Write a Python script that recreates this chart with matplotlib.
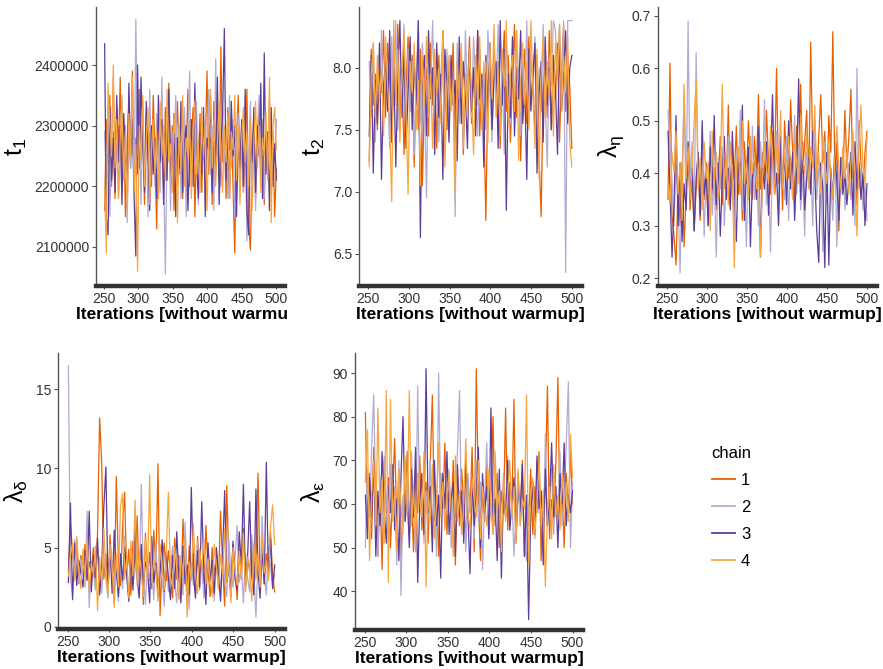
import numpy as np
import matplotlib.pyplot as plt
from matplotlib.lines import Line2D
from matplotlib.transforms import Bbox, TransformedBbox

plt.rcParams['font.family'] = ['Liberation Sans', 'DejaVu Sans']
plt.rcParams['mathtext.fontset'] = 'custom'
plt.rcParams['mathtext.rm'] = 'Liberation Sans'
plt.rcParams['mathtext.it'] = 'Liberation Sans:italic'

chains = ['1', '2', '3', '4']
chain_colors = ['#E66101', '#B2ABD2', '#5E3C99', '#F7A540']
iterations = np.linspace(251, 500, 100)
x_ticks = [250, 300, 350, 400, 450, 500]

# t1
t1_c1 = [2160000, 2310000, 2240000, 2350000, 2200000, 2290000, 2180000, 2330000, 2260000, 2380000,
         2210000, 2300000, 2150000, 2270000, 2340000, 2230000, 2390000, 2190000, 2280000, 2220000,
         2360000, 2250000, 2300000, 2170000, 2320000, 2240000, 2290000, 2200000, 2350000, 2260000,
         2130000, 2310000, 2230000, 2280000, 2190000, 2330000, 2250000, 2370000, 2210000, 2300000,
         2160000, 2270000, 2340000, 2220000, 2290000, 2180000, 2310000, 2250000, 2360000, 2200000,
         2280000, 2330000, 2150000, 2270000, 2240000, 2320000, 2190000, 2300000, 2260000, 2390000,
         2220000, 2280000, 2170000, 2340000, 2250000, 2300000, 2210000, 2430000, 2240000, 2290000,
         2180000, 2330000, 2260000, 2310000, 2200000, 2090000, 2280000, 2350000, 2230000, 2300000,
         2190000, 2270000, 2360000, 2140000, 2095000, 2250000, 2310000, 2180000, 2280000, 2330000,
         2220000, 2260000, 2170000, 2300000, 2240000, 2340000, 2200000, 2290000, 2150000, 2230000]
t1_c2 = [2290000, 2200000, 2330000, 2150000, 2270000, 2380000, 2240000, 2310000, 2180000, 2260000,
         2350000, 2210000, 2300000, 2140000, 2280000, 2230000, 2320000, 2190000, 2475000, 2250000,
         2300000, 2170000, 2340000, 2220000, 2290000, 2150000, 2360000, 2240000, 2280000, 2200000,
         2320000, 2260000, 2190000, 2380000, 2230000, 2055000, 2270000, 2310000, 2160000, 2290000,
         2240000, 2350000, 2200000, 2300000, 2180000, 2270000, 2330000, 2150000, 2260000, 2390000,
         2210000, 2290000, 2240000, 2340000, 2170000, 2280000, 2230000, 2310000, 2190000, 2270000,
         2360000, 2220000, 2300000, 2160000, 2410000, 2250000, 2290000, 2200000, 2330000, 2240000,
         2280000, 2180000, 2350000, 2230000, 2310000, 2150000, 2270000, 2320000, 2210000, 2260000,
         2190000, 2300000, 2110000, 2240000, 2340000, 2200000, 2290000, 2160000, 2280000, 2350000,
         2230000, 2310000, 2180000, 2270000, 2250000, 2330000, 2200000, 2290000, 2240000, 2310000]
t1_c3 = [2435000, 2150000, 2120000, 2330000, 2210000, 2280000, 2190000, 2350000, 2240000, 2300000,
         2170000, 2320000, 2260000, 2200000, 2370000, 2250000, 2310000, 2180000, 2085000, 2400000,
         2230000, 2380000, 2270000, 2190000, 2340000, 2250000, 2160000, 2300000, 2220000, 2280000,
         2180000, 2350000, 2240000, 2310000, 2170000, 2290000, 2210000, 2360000, 2250000, 2200000,
         2320000, 2150000, 2280000, 2230000, 2340000, 2190000, 2270000, 2300000, 2160000, 2250000,
         2310000, 2200000, 2370000, 2240000, 2180000, 2290000, 2220000, 2330000, 2150000, 2280000,
         2260000, 2350000, 2190000, 2300000, 2230000, 2380000, 2170000, 2270000, 2320000, 2460000,
         2210000, 2290000, 2180000, 2340000, 2250000, 2300000, 2150000, 2270000, 2230000, 2310000,
         2200000, 2360000, 2160000, 2120000, 2280000, 2240000, 2330000, 2190000, 2300000, 2250000,
         2370000, 2180000, 2420000, 2220000, 2290000, 2160000, 2330000, 2200000, 2270000, 2210000]
t1_c4 = [2200000, 2090000, 2370000, 2300000, 2250000, 2400000, 2230000, 2310000, 2180000, 2280000,
         2340000, 2210000, 2290000, 2160000, 2320000, 2250000, 2380000, 2190000, 2270000, 2060000,
         2300000, 2240000, 2350000, 2200000, 2280000, 2330000, 2170000, 2260000, 2310000, 2220000,
         2290000, 2180000, 2340000, 2250000, 2300000, 2210000, 2360000, 2240000, 2270000, 2190000,
         2320000, 2260000, 2140000, 2300000, 2230000, 2350000, 2200000, 2280000, 2250000, 2310000,
         2180000, 2290000, 2340000, 2220000, 2270000, 2190000, 2330000, 2250000, 2300000, 2160000,
         2280000, 2360000, 2230000, 2310000, 2200000, 2270000, 2340000, 2250000, 2190000, 2300000,
         2240000, 2320000, 2180000, 2290000, 2260000, 2350000, 2210000, 2300000, 2170000, 2280000,
         2330000, 2240000, 2290000, 2200000, 2310000, 2160000, 2270000, 2340000, 2230000, 2300000,
         2190000, 2280000, 2250000, 2320000, 2210000, 2380000, 2140000, 2300000, 2330000, 2260000]

# t2
t2_c1 = [7.25, 8.15, 7.70, 7.95, 7.50, 8.05, 7.80, 8.30, 7.60, 8.20,
         7.90, 7.40, 8.10, 7.75, 8.35, 7.55, 8.00, 7.30, 7.85, 8.25,
         7.65, 8.10, 7.20, 7.95, 7.50, 8.15, 7.05, 7.80, 8.00, 7.45,
         8.20, 7.70, 7.95, 7.35, 8.10, 7.60, 8.30, 7.85, 7.50, 8.05,
         7.75, 8.20, 7.40, 7.90, 7.65, 8.15, 7.30, 7.95, 7.80, 8.25,
         7.55, 8.00, 7.70, 8.30, 7.45, 7.90, 7.60, 6.77, 7.85, 8.10,
         7.50, 8.20, 7.75, 8.05, 7.35, 7.95, 8.30, 7.65, 8.10, 7.40,
         7.90, 8.35, 7.60, 8.00, 7.25, 7.85, 8.15, 7.55, 8.25, 7.70,
         7.95, 7.45, 8.10, 7.30, 6.80, 7.80, 8.05, 7.60, 8.30, 7.50,
         8.00, 7.75, 8.20, 7.40, 7.95, 8.35, 7.65, 8.10, 7.85, 7.35]
t2_c2 = [8.05, 7.60, 8.20, 7.40, 7.95, 7.75, 8.30, 7.55, 8.10, 7.85,
         7.35, 8.25, 7.70, 8.38, 7.50, 8.00, 7.80, 8.35, 7.45, 8.15,
         7.65, 8.05, 7.30, 7.90, 8.38, 7.55, 8.20, 7.75, 6.95, 8.10,
         7.85, 8.38, 7.60, 8.00, 7.40, 7.95, 8.25, 7.70, 8.15, 7.50,
         8.05, 7.80, 6.80, 8.20, 7.55, 8.00, 7.35, 8.30, 7.75, 8.10,
         7.60, 8.25, 7.85, 7.45, 8.15, 7.70, 8.05, 7.50, 8.30, 7.90,
         7.40, 8.10, 7.75, 8.35, 7.60, 8.00, 7.30, 8.20, 7.85, 7.55,
         8.15, 7.65, 8.30, 7.90, 7.45, 8.05, 7.70, 8.38, 7.55, 8.10,
         7.80, 8.25, 7.40, 8.00, 7.65, 8.35, 7.75, 7.20, 8.10, 7.85,
         8.38, 8.30, 7.95, 8.35, 7.70, 8.38, 6.35, 8.38, 8.38, 8.38]
t2_c3 = [7.45, 8.10, 7.15, 7.90, 7.55, 8.20, 7.10, 7.85, 8.05, 7.65,
         8.30, 7.40, 8.00, 7.20, 7.95, 8.38, 7.60, 8.15, 7.35, 7.80,
         8.25, 7.50, 8.05, 7.70, 8.38, 6.63, 7.90, 8.10, 7.45, 8.30,
         7.75, 8.00, 7.30, 8.20, 7.60, 7.95, 7.10, 8.15, 7.85, 7.40,
         8.10, 7.70, 7.90, 7.25, 8.25, 7.55, 8.05, 7.80, 7.35, 8.15,
         7.65, 8.00, 7.45, 8.30, 7.75, 7.95, 7.20, 8.10, 7.60, 8.20,
         7.50, 7.90, 8.05, 7.35, 8.38, 7.70, 8.15, 6.85, 7.95, 7.60,
         8.25, 7.45, 8.00, 7.75, 8.30, 7.55, 7.85, 7.10, 8.15, 7.65,
         7.95, 8.20, 7.15, 7.80, 8.05, 7.40, 8.25, 7.70, 8.00, 7.50,
         8.10, 7.85, 7.30, 8.20, 7.65, 7.95, 8.30, 7.55, 8.00, 8.10]
t2_c4 = [7.20, 7.95, 8.20, 7.60, 8.10, 7.75, 8.00, 7.45, 8.25, 7.85,
         7.55, 6.92, 8.38, 7.70, 8.15, 7.40, 7.95, 8.30, 7.65, 6.98,
         8.05, 7.80, 8.20, 7.50, 7.90, 7.05, 8.10, 7.70, 8.25, 7.60,
         7.95, 7.35, 8.15, 7.80, 8.00, 7.55, 8.30, 7.20, 7.85, 8.10,
         7.65, 7.90, 6.98, 8.05, 7.75, 8.20, 7.45, 7.95, 7.60, 8.15,
         7.80, 7.30, 8.10, 7.70, 8.25, 7.50, 7.90, 8.05, 7.40, 8.20,
         7.75, 8.35, 7.60, 8.00, 7.45, 8.15, 7.85, 8.38, 7.55, 7.95,
         8.10, 7.65, 8.30, 7.25, 7.90, 8.20, 7.70, 8.05, 7.50, 8.38,
         7.80, 7.35, 8.15, 7.10, 7.95, 8.25, 7.60, 8.05, 7.75, 8.38,
         7.45, 8.20, 7.90, 8.35, 7.65, 8.10, 7.80, 8.25, 7.40, 7.20]

# lambda eta
leta_c1 = [0.35, 0.61, 0.32, 0.28, 0.225, 0.38, 0.30, 0.42, 0.26, 0.36,
           0.45, 0.33, 0.40, 0.29, 0.37, 0.44, 0.31, 0.39, 0.35, 0.42,
           0.30, 0.46, 0.36, 0.41, 0.33, 0.38, 0.47, 0.34, 0.43, 0.37,
           0.53, 0.35, 0.44, 0.39, 0.49, 0.36, 0.42, 0.31, 0.46, 0.38,
           0.50, 0.41, 0.35, 0.47, 0.40, 0.55, 0.37, 0.44, 0.39, 0.52,
           0.42, 0.36, 0.48, 0.41, 0.60, 0.38, 0.45, 0.33, 0.50, 0.43,
           0.39, 0.54, 0.44, 0.35, 0.49, 0.41, 0.57, 0.40, 0.46, 0.52,
           0.38, 0.65, 0.43, 0.50, 0.37, 0.47, 0.55, 0.42, 0.48, 0.36,
           0.51, 0.44, 0.67, 0.40, 0.46, 0.29, 0.43, 0.38, 0.52, 0.41,
           0.47, 0.56, 0.39, 0.45, 0.34, 0.50, 0.42, 0.37, 0.44, 0.48]
leta_c2 = [0.52, 0.45, 0.38, 0.30, 0.42, 0.35, 0.21, 0.40, 0.55, 0.33,
           0.69, 0.37, 0.46, 0.31, 0.63, 0.39, 0.34, 0.44, 0.28, 0.41,
           0.36, 0.48, 0.32, 0.40, 0.24, 0.43, 0.37, 0.45, 0.30, 0.39,
           0.47, 0.34, 0.41, 0.29, 0.44, 0.38, 0.52, 0.33, 0.40, 0.26,
           0.43, 0.36, 0.49, 0.35, 0.41, 0.30, 0.46, 0.38, 0.54, 0.34,
           0.40, 0.25, 0.44, 0.37, 0.48, 0.32, 0.42, 0.39, 0.35, 0.47,
           0.31, 0.43, 0.38, 0.51, 0.36, 0.45, 0.33, 0.40, 0.28, 0.44,
           0.37, 0.42, 0.30, 0.48, 0.35, 0.41, 0.39, 0.25, 0.46, 0.34,
           0.43, 0.38, 0.31, 0.45, 0.26, 0.40, 0.36, 0.44, 0.33, 0.39,
           0.42, 0.35, 0.47, 0.30, 0.60, 0.37, 0.41, 0.33, 0.38, 0.31]
leta_c3 = [0.48, 0.37, 0.24, 0.34, 0.51, 0.30, 0.42, 0.27, 0.38, 0.33,
           0.46, 0.35, 0.41, 0.29, 0.39, 0.44, 0.32, 0.50, 0.36, 0.40,
           0.30, 0.45, 0.37, 0.51, 0.34, 0.42, 0.28, 0.39, 0.47, 0.35,
           0.41, 0.33, 0.48, 0.38, 0.27, 0.43, 0.36, 0.53, 0.31, 0.40,
           0.45, 0.26, 0.39, 0.44, 0.35, 0.49, 0.24, 0.41, 0.37, 0.46,
           0.32, 0.42, 0.55, 0.36, 0.40, 0.30, 0.47, 0.38, 0.43, 0.34,
           0.50, 0.37, 0.44, 0.31, 0.41, 0.58, 0.35, 0.46, 0.33, 0.39,
           0.43, 0.36, 0.48, 0.40, 0.29, 0.23, 0.42, 0.37, 0.22, 0.44,
           0.225, 0.41, 0.35, 0.45, 0.38, 0.31, 0.43, 0.36, 0.40, 0.34,
           0.39, 0.44, 0.32, 0.46, 0.37, 0.42, 0.35, 0.40, 0.30, 0.38]
leta_c4 = [0.38, 0.34, 0.44, 0.40, 0.48, 0.36, 0.42, 0.31, 0.57, 0.39,
           0.45, 0.35, 0.41, 0.50, 0.58, 0.37, 0.43, 0.33, 0.46, 0.39,
           0.42, 0.29, 0.48, 0.38, 0.44, 0.35, 0.40, 0.57, 0.37, 0.43,
           0.34, 0.46, 0.39, 0.22, 0.41, 0.45, 0.36, 0.50, 0.38, 0.42,
           0.35, 0.47, 0.40, 0.44, 0.37, 0.42, 0.24, 0.39, 0.46, 0.41,
           0.38, 0.49, 0.43, 0.36, 0.45, 0.40, 0.52, 0.37, 0.44, 0.39,
           0.47, 0.41, 0.35, 0.46, 0.42, 0.38, 0.51, 0.43, 0.40, 0.48,
           0.37, 0.45, 0.41, 0.53, 0.39, 0.44, 0.36, 0.47, 0.42, 0.38,
           0.46, 0.40, 0.35, 0.43, 0.49, 0.41, 0.37, 0.45, 0.39, 0.44,
           0.36, 0.42, 0.48, 0.40, 0.28, 0.45, 0.53, 0.41, 0.38, 0.47]

# lambda delta
ldel_c1 = [3.5, 6.4, 4.8, 3.1, 5.5, 2.7, 4.5, 3.9, 5.2, 2.9,
           4.1, 3.3, 5.0, 2.5, 6.0, 13.2, 10.4, 3.0, 4.6, 2.2,
           5.8, 3.4, 1.5, 9.5, 4.0, 2.6, 6.3, 8.5, 3.2, 4.9,
           2.0, 5.4, 3.7, 7.0, 2.8, 4.4, 1.4, 5.9, 3.1, 4.7,
           2.4, 6.1, 3.6, 10.3, 0.7, 4.2, 5.3, 2.9, 4.8, 3.5,
           1.8, 5.6, 3.0, 4.5, 2.3, 6.8, 3.8, 1.6, 5.1, 3.3,
           4.6, 2.1, 5.7, 3.4, 4.0, 2.7, 6.4, 3.6, 1.9, 5.0,
           3.2, 4.5, 2.5, 7.3, 3.9, 1.3, 8.9, 4.1, 2.8, 5.2,
           3.6, 1.7, 4.9, 3.0, 6.2, 2.6, 4.3, 3.5, 5.5, 2.3,
           4.0, 9.7, 3.1, 5.3, 2.7, 4.6, 3.8, 6.0, 3.3, 2.2]
ldel_c2 = [16.5, 3.0, 2.0, 5.5, 3.6, 2.8, 4.3, 3.2, 2.5, 7.3,
           1.2, 4.1, 3.4, 2.3, 5.0, 3.7, 2.1, 4.6, 3.0, 1.8,
           5.2, 3.3, 2.6, 4.4, 1.6, 3.9, 2.4, 5.7, 3.1, 1.9,
           4.2, 2.7, 3.5, 5.0, 2.0, 9.0, 3.2, 1.4, 4.5, 2.9,
           3.8, 1.7, 5.3, 2.5, 4.0, 3.0, 1.3, 4.7, 2.2, 3.6,
           5.1, 2.8, 1.5, 4.3, 3.4, 2.0, 6.6, 3.1, 1.1, 4.0,
           2.6, 3.7, 5.4, 2.3, 4.1, 1.8, 3.3, 4.8, 2.7, 3.9,
           1.6, 5.0, 3.5, 2.4, 4.4, 3.0, 1.9, 5.6, 3.2, 2.5,
           4.3, 6.4, 2.8, 3.7, 1.5, 4.6, 3.1, 2.2, 5.8, 3.5,
           0.6, 4.2, 2.9, 7.0, 3.4, 2.0, 5.1, 3.8, 2.6, 3.3]
ldel_c3 = [2.8, 7.8, 1.7, 5.3, 2.6, 4.2, 3.4, 2.5, 4.8, 3.0,
           7.3, 2.2, 4.5, 3.1, 5.6, 2.0, 3.8, 7.5, 10.1, 2.7,
           4.9, 2.1, 6.1, 3.5, 1.9, 4.6, 2.9, 5.0, 3.3, 1.6,
           4.4, 2.3, 6.3, 3.0, 1.8, 5.2, 2.6, 4.1, 3.6, 1.5,
           5.7, 2.8, 4.0, 1.9, 3.4, 5.5, 2.2, 4.7, 3.1, 1.7,
           4.5, 2.4, 6.0, 3.2, 1.5, 5.1, 2.7, 3.9, 2.0, 8.8,
           3.3, 1.8, 4.8, 2.5, 7.9, 3.6, 1.4, 5.3, 2.9, 4.2,
           2.1, 5.0, 3.4, 1.6, 4.5, 8.6, 2.8, 3.7, 1.9, 5.4,
           3.0, 2.3, 6.0, 3.8, 9.0, 2.6, 4.4, 7.9, 3.2, 2.0,
           8.7, 3.5, 1.8, 4.9, 2.7, 10.4, 3.1, 5.6, 2.4, 3.9]
ldel_c4 = [3.2, 4.5, 5.3, 2.9, 5.7, 3.6, 2.4, 4.9, 3.1, 5.5,
           2.2, 4.0, 3.3, 5.1, 1.0, 4.4, 2.7, 6.2, 3.5, 2.0,
           5.0, 3.8, 1.2, 4.6, 2.5, 7.6, 8.4, 3.0, 4.3, 1.8,
           5.4, 3.2, 8.0, 2.6, 4.8, 3.5, 1.9, 5.6, 3.0, 9.6,
           2.8, 4.2, 3.6, 1.6, 5.2, 3.9, 2.3, 4.7, 8.5, 3.1,
           2.5, 5.0, 3.7, 1.7, 4.5, 3.2, 5.8, 0.6, 4.1, 2.9,
           6.5, 3.4, 2.1, 4.9, 3.6, 5.5, 2.7, 4.3, 3.0, 1.9,
           5.2, 3.8, 2.4, 4.6, 3.3, 6.2, 2.8, 4.0, 1.5, 5.0,
           3.5, 2.6, 4.8, 3.1, 5.9, 2.2, 4.4, 3.7, 1.6, 5.3,
           3.0, 4.6, 2.5, 5.7, 3.4, 4.1, 2.9, 6.3, 7.7, 5.2]

# lambda epsilon
leps_c1 = [81, 56, 67, 52, 73, 60, 48, 64, 45, 70,
           58, 66, 50, 62, 75, 55, 68, 47, 61, 57,
           72, 53, 63, 49, 66, 58, 71, 54, 60, 65,
           51, 69, 85, 56, 62, 48, 67, 59, 74, 53,
           63, 57, 70, 46, 64, 55, 68, 60, 52, 66,
           58, 73, 49, 91, 61, 47, 64, 56, 69, 53,
           62, 80, 55, 67, 50, 63, 58, 82, 54, 65,
           59, 84, 51, 66, 57, 70, 48, 62, 55, 68,
           53, 64, 58, 72, 47, 60, 66, 87, 52, 61,
           57, 69, 89, 55, 63, 50, 67, 58, 72, 60]
leps_c2 = [50, 68, 57, 73, 85, 59, 48, 66, 55, 71,
           61, 52, 69, 58, 64, 46, 70, 39, 62, 56,
           67, 54, 72, 60, 49, 87, 58, 65, 51, 63,
           57, 70, 53, 62, 48, 90, 59, 66, 55, 61,
           68, 50, 64, 57, 72, 86, 54, 62, 49, 67,
           58, 63, 52, 70, 56, 65, 45, 61, 74, 55,
           60, 53, 69, 58, 64, 50, 66, 57, 71, 54,
           62, 48, 59, 67, 55, 63, 51, 47, 60, 56,
           65, 52, 70, 58, 63, 49, 76, 55, 61, 68,
           53, 64, 57, 72, 55, 60, 74, 88, 50, 65]
leps_c3 = [62, 52, 66, 57, 70, 48, 63, 55, 72, 59,
           51, 64, 58, 69, 54, 61, 47, 66, 80, 56,
           62, 50, 68, 57, 73, 42, 60, 67, 53, 91,
           58, 64, 49, 70, 55, 62, 43, 67, 59, 72,
           53, 61, 65, 48, 69, 57, 63, 51, 71, 58,
           44, 66, 55, 62, 73, 50, 67, 58, 64, 52,
           82, 56, 61, 47, 68, 43, 63, 57, 70, 54,
           60, 66, 52, 64, 58, 69, 48, 62, 33.5, 57,
           65, 53, 71, 59, 63, 46, 68, 55, 61, 74,
           57, 64, 50, 67, 60, 74, 55, 62, 58, 63]
leps_c4 = [65, 77, 47, 62, 70, 55, 82, 58, 66, 51,
           86, 42, 84, 56, 63, 49, 68, 60, 53, 71,
           58, 86, 55, 64, 50, 67, 61, 57, 72, 41,
           63, 56, 69, 52, 60, 74, 57, 65, 54, 62,
           67, 59, 48, 71, 56, 63, 53, 60, 75, 58,
           54, 66, 61, 57, 70, 52, 64, 59, 55, 68,
           60, 53, 72, 58, 63, 49, 67, 56, 62, 70,
           57, 64, 51, 68, 55, 61, 59, 85, 46, 62,
           66, 53, 60, 70, 55, 63, 41, 58, 64, 52,
           69, 57, 62, 54, 67, 59, 65, 56, 76, 66]

t1_ticks = [2100000, 2200000, 2300000, 2400000]
t2_ticks = [6.5, 7.0, 7.5, 8.0]
leta_ticks = [0.2, 0.3, 0.4, 0.5, 0.6, 0.7]
ldel_ticks = [0, 5, 10, 15]
leps_ticks = [40, 50, 60, 70, 80, 90]


def trace(ax, series, ylabel, yticks, ylim, fmt):
    for vals, col in zip(series, chain_colors):
        ax.plot(iterations, vals, color=col, lw=0.9)
    ax.set_xlim(238.5, 512.5)
    ax.set_ylim(*ylim)
    ax.set_xticks(x_ticks)
    ax.set_yticks(yticks)
    ax.set_yticklabels([fmt.format(v) for v in yticks])
    for s in ['top', 'right']:
        ax.spines[s].set_visible(False)
    ax.spines['left'].set_color('#555555')
    ax.spines['left'].set_linewidth(1.0)
    ax.spines['bottom'].set_color('#333333')
    ax.spines['bottom'].set_linewidth(3.2)
    ax.tick_params(axis='y', length=3, width=0.8, color='#555555',
                   labelsize=10, labelcolor='#333333', pad=2)
    ax.tick_params(axis='x', length=2.5, width=0.8, color='#555555',
                   labelsize=10, labelcolor='#333333', pad=1.5)
    ax.set_xlabel('Iterations [without warmup]', fontsize=12.5, fontweight='bold', labelpad=1)
    ax.set_ylabel(ylabel, fontsize=18, labelpad=4)


fig = plt.figure(figsize=(8.83, 6.69), dpi=100)

ax1 = fig.add_axes([0.1087, 0.5725, 0.2141, 0.417])
ax2 = fig.add_axes([0.4066, 0.5725, 0.2525, 0.417])
ax3 = fig.add_axes([0.7452, 0.5725, 0.2480, 0.417])
ax4 = fig.add_axes([0.0657, 0.0598, 0.2571, 0.4125])
ax5 = fig.add_axes([0.4020, 0.0583, 0.2582, 0.414])

trace(ax1, [t1_c1, t1_c2, t1_c3, t1_c4], r'$\mathrm{t}_1$', t1_ticks, (2035700, 2495600), '{:.0f}')
trace(ax2, [t2_c1, t2_c2, t2_c3, t2_c4], r'$\mathrm{t}_2$', t2_ticks, (6.24, 8.49), '{:.1f}')
trace(ax3, [leta_c1, leta_c2, leta_c3, leta_c4], r'$\mathrm{\lambda}_{\mathrm{\eta}}$', leta_ticks, (0.185, 0.717), '{:.1f}')
trace(ax4, [ldel_c1, ldel_c2, ldel_c3, ldel_c4], r'$\mathrm{\lambda}_{\mathrm{\delta}}$', ldel_ticks, (-0.15, 17.3), '{:.0f}')
trace(ax5, [leps_c1, leps_c2, leps_c3, leps_c4], r'$\mathrm{\lambda}_{\mathrm{\varepsilon}}$', leps_ticks, (31.1, 94.6), '{:.0f}')

# first panel's x title is cut at the panel edge in the original
lab = ax1.xaxis.label
lab.set_clip_box(TransformedBbox(Bbox.from_extents(0, 0, ax1.get_position().x1 + 0.003, 1), fig.transFigure))
lab.set_clip_on(True)

handles = [Line2D([0], [0], color=c, lw=1.3) for c in chain_colors]
leg = fig.legend(handles, chains, title='chain', loc='upper left',
                 bbox_to_anchor=(0.789, 0.356), frameon=False, fontsize=12,
                 title_fontsize=12, handlelength=1.38, handletextpad=0.38,
                 labelspacing=0.72, alignment='left')

fig.savefig('out.png', dpi=100)
